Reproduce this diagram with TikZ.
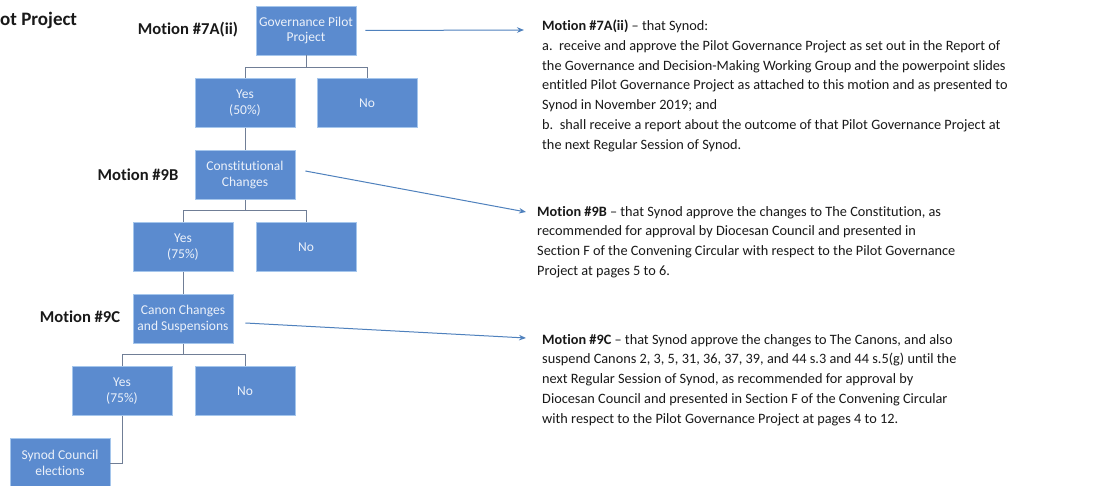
\documentclass[tikz,border=0pt]{standalone}
\usepackage{fontspec}
\setmainfont{Carlito}[Ligatures={NoCommon}]
\usetikzlibrary{arrows.meta,calc}
\definecolor{boxfill}{RGB}{91,139,207}
\definecolor{boxline}{RGB}{165,198,236}
\definecolor{boxtext}{RGB}{236,241,250}
\definecolor{connc}{RGB}{112,126,150}
\definecolor{arrc}{RGB}{79,129,189}
\definecolor{txt}{RGB}{25,25,25}
\tikzset{
  vbox/.style={draw=boxline, line width=0.8pt, fill=boxfill, text=boxtext,
    minimum width=100pt, minimum height=49pt, inner sep=1pt, align=center,
    font=\fontsize{13.5}{15.5}\selectfont},
  conn/.style={draw=connc, line width=1pt},
  arr/.style={draw=arrc, line width=1pt, -{Stealth[length=7pt,width=5.5pt]}},
  mlabel/.style={text=txt, font=\fontsize{16.6}{19}\selectfont\bfseries, inner sep=0pt},
  para/.style={text=txt, anchor=north west, align=left, inner sep=0pt,
    font=\fontsize{14.3}{19.7}\selectfont}
}
\begin{document}
\begin{tikzpicture}[x=1pt,y=-1pt]
\useasboundingbox[fill=white] (0,0) rectangle (1098,486);

% title fragment and motion labels
\node[text=txt, font=\fontsize{19}{22}\selectfont\bfseries, anchor=west, inner sep=0pt] (title) at (0,20) {ot Project};
\node[mlabel] (l7) at (188,30) {Motion \#7A(ii)};
\node[mlabel] (l9b) at (138,175) {Motion \#9B};
\node[mlabel] (l9c) at (80,317) {Motion \#9C};

% boxes
\node[vbox] (gov) at (306,30.5) {Governance Pilot\\Project};
\node[vbox] (y1) at (245,103) {Yes\\(50\%)};
\node[vbox] (n1) at (367,103) {No};
\node[vbox] (con) at (245,175) {Constitutional\\Changes};
\node[vbox] (y2) at (183,247) {Yes\\(75\%)};
\node[vbox] (n2) at (306,247) {No};
\node[vbox] (can) at (183,319) {Canon Changes\\and Suspensions};
\node[vbox] (y3) at (122,391) {Yes\\(75\%)};
\node[vbox] (n3) at (245,391) {No};
\node[vbox] (syn) at (60,463) {Synod Council\\elections};

% tree connectors
\draw[conn] (gov.south) -- ++(0,12) -| (y1.north);
\draw[conn] (gov.south) -- ++(0,12) -| (n1.north);
\draw[conn] (y1.south) -- (con.north);
\draw[conn] (con.south) -- ++(0,11) -| (y2.north);
\draw[conn] (con.south) -- ++(0,11) -| (n2.north);
\draw[conn] (y2.south) -- (can.north);
\draw[conn] (can.south) -- ++(0,11) -| (y3.north);
\draw[conn] (can.south) -- ++(0,11) -| (n3.north);
\draw[conn] (y3.south) |- (syn.east);

% motion texts
\node[para] (t7) at (542,20) {\textbf{Motion \#7A(ii)} – that Synod:\\
a.\ \ receive and approve the Pilot Governance Project as set out in the Report of\\
the Governance and Decision-Making Working Group and the powerpoint slides\\
entitled Pilot Governance Project as attached to this motion and as presented to\\
Synod in November 2019; and\\
b.\ \ shall receive a report about the outcome of that Pilot Governance Project at\\
the next Regular Session of Synod.};
\node[para] (t9b) at (537,206) {\textbf{Motion \#9B} – that Synod approve the changes to The Constitution, as\\
recommended for approval by Diocesan Council and presented in\\
Section F of the Convening Circular with respect to the Pilot Governance\\
Project at pages 5 to 6.};
\node[para] (t9c) at (542,334) {\textbf{Motion \#9C} – that Synod approve the changes to The Canons, and also\\
suspend Canons 2, 3, 5, 31, 36, 37, 39, and 44 s.3 and 44 s.5(g) until the\\
next Regular Session of Synod, as recommended for approval by\\
Diocesan Council and presented in Section F of the Convening Circular\\
with respect to the Pilot Governance Project at pages 4 to 12.};

% arrow tips
\coordinate (a7) at (524,30);
\coordinate (a9b) at (526,212);
\coordinate (a9c) at (526,338);
\draw[arr] ([xshift=9pt]gov.east) -- (a7);
\draw[arr] ([shift={(10,-4)}]con.east) -- (a9b);
\draw[arr] ([shift={(12,4)}]can.east) -- (a9c);
\end{tikzpicture}
\end{document}
